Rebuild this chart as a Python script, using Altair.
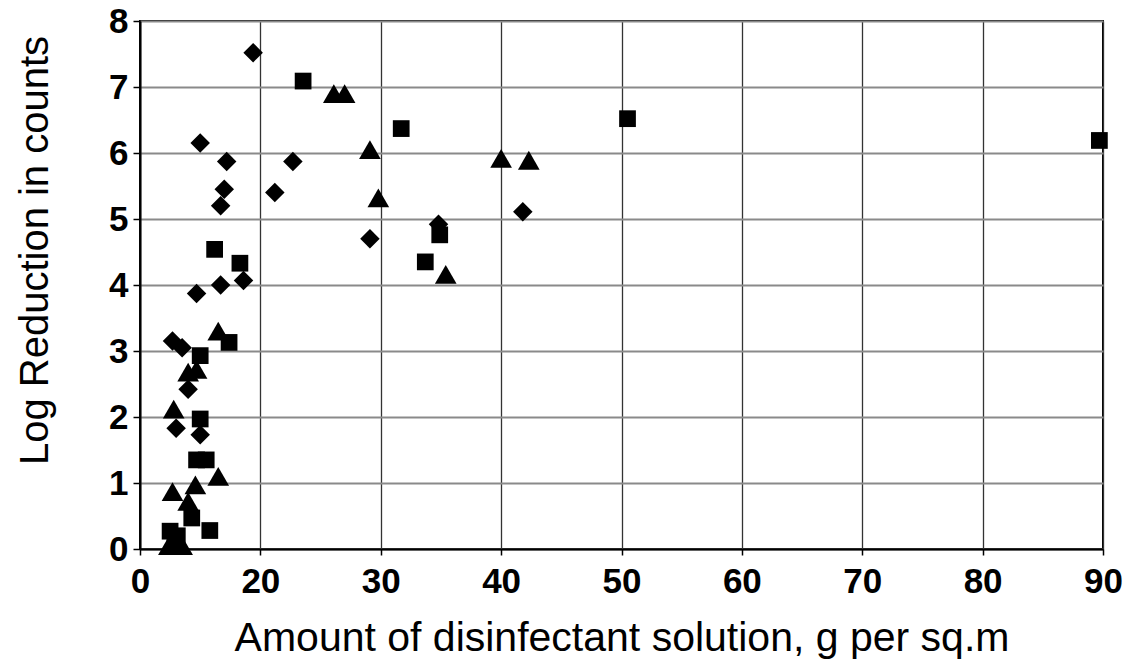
import altair as alt
import pandas as pd

# Series (x in g per sq.m, y in log reduction)
diamond_x = [12.7, 13.5, 14.0, 13.0, 15.0, 14.7, 16.7, 18.6, 16.7, 17.0, 17.2, 15.0, 19.4, 21.2, 22.7, 29.1, 34.8, 41.8]
diamond_y = [3.15, 3.05, 2.42, 1.83, 1.73, 3.87, 4.00, 4.07, 5.20, 5.45, 5.87, 6.15, 7.52, 5.40, 5.87, 4.70, 4.92, 5.11]

square_x = [12.5, 13.1, 12.9, 14.3, 15.8, 14.7, 15.5, 15.0, 15.0, 17.4, 16.2, 18.3, 23.55, 31.7, 33.7, 34.9, 50.5, 89.7]
square_y = [0.27, 0.20, 0.08, 0.47, 0.28, 1.35, 1.35, 1.97, 2.93, 3.13, 4.54, 4.33, 7.09, 6.37, 4.35, 4.76, 6.52, 6.19]

triangle_x = [12.4, 13.5, 12.7, 14.0, 14.6, 16.5, 12.8, 14.0, 14.7, 16.5, 26.1, 27.0, 29.1, 29.8, 35.4, 40.0, 42.3]
triangle_y = [0.05, 0.05, 0.87, 0.72, 0.97, 1.10, 2.12, 2.68, 2.72, 3.30, 6.90, 6.90, 6.05, 5.32, 4.16, 5.92, 5.89]

x_ticks = [10, 20, 30, 40, 50, 60, 70, 80, 90]
y_ticks = [0, 1, 2, 3, 4, 5, 6, 7, 8]

FONT = "Liberation Sans"

df_d = pd.DataFrame({"x": diamond_x, "y": diamond_y})
df_s = pd.DataFrame({"x": square_x, "y": square_y})
df_t = pd.DataFrame({"x": triangle_x, "y": triangle_y})

x_enc = alt.X(
    "x:Q",
    scale=alt.Scale(domain=[10, 90], nice=False, zero=False),
    axis=alt.Axis(
        values=x_ticks,
        format="d",
        title="Amount of disinfectant solution, g per sq.m",
        labelExpr="datum.value == 10 ? '0' : datum.label",
        labelFont=FONT, labelFontSize=35, labelFontWeight="bold", labelColor="black",
        labelPadding=9, labelFlush=False, labelOverlap=False,
        tickSize=6, tickColor="black", tickWidth=1.5,
        domainColor="black", domainWidth=2,
        grid=True, gridColor="#333333", gridWidth=1.3,
        titleFont=FONT, titleFontSize=41, titleFontWeight="normal", titleColor="black",
        titleY=69,
    ),
)
y_enc = alt.Y(
    "y:Q",
    scale=alt.Scale(domain=[0, 8], nice=False),
    axis=alt.Axis(
        values=y_ticks,
        format="d",
        title="Log Reduction in counts",
        labelFont=FONT, labelFontSize=35, labelFontWeight="bold", labelColor="black",
        labelPadding=5, labelFlush=False, labelOverlap=False,
        tickSize=7, tickColor="black", tickWidth=1.5,
        domainColor="black", domainWidth=2,
        grid=True, gridColor="#8a8a8a", gridWidth=2,
        titleFont=FONT, titleFontSize=40, titleFontWeight="normal", titleColor="black",
        titleX=-85, titleY=229,
    ),
)

diamonds = alt.Chart(df_d).mark_point(shape="diamond", filled=True, size=380, color="black", opacity=1).encode(x=x_enc, y=y_enc)
squares = alt.Chart(df_s).mark_point(shape="square", filled=True, size=280, color="black", opacity=1).encode(x="x:Q", y="y:Q")
triangles = alt.Chart(df_t).mark_point(shape="triangle-up", filled=True, size=470, color="black", opacity=1).encode(x="x:Q", y="y:Q")

chart = (
    alt.layer(diamonds, squares, triangles)
    .properties(
        width=963,
        height=528,
        autosize=alt.AutoSizeParams(type="none"),
        padding={"left": 140, "top": 21, "right": 20, "bottom": 116},
        background="white",
    )
    .configure_view(stroke="black", strokeWidth=2)
)

chart.save("out.html", embed_options={"renderer": "svg", "actions": False})
